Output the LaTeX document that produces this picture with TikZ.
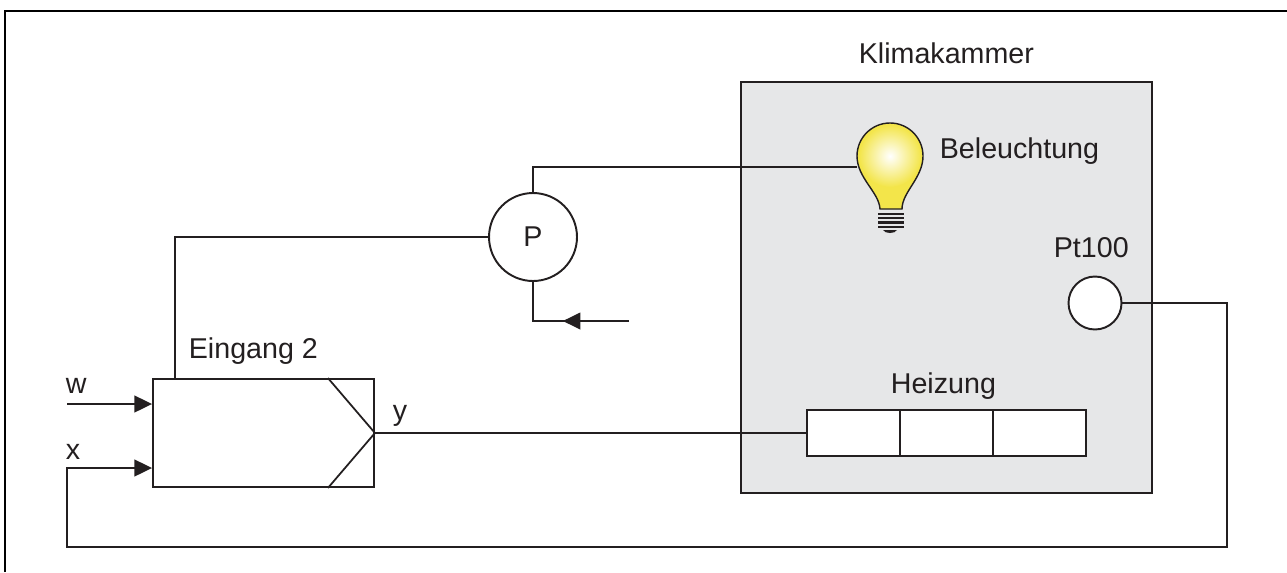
\documentclass[tikz,border=0pt]{standalone}
\usepackage{fontspec}
\setmainfont{Liberation Sans}
\usepackage{tikz}
\usetikzlibrary{arrows.meta, decorations.markings}

\definecolor{linie}{HTML}{231F20}
\definecolor{kammergrau}{HTML}{E6E7E8}
\definecolor{birne}{HTML}{F3E54A}

\begin{document}
\begin{tikzpicture}[x=0.02cm, y=-0.02cm, color=linie, line width=1pt,
  every node/.style={font=\fontsize{16.3}{19}\selectfont, inner sep=0pt},
  box/.style={draw, line width=1.1pt, fill=white, rectangle, inner sep=0pt},
  sensor/.style={draw, line width=1.1pt, fill=white, circle, inner sep=0pt},
  pfeil/.style={-{Triangle[length=10pt, width=9.5pt]}}]
\useasboundingbox (0,0) rectangle (1287,572);

% Rahmen
\draw[line width=1.6pt, black] (5,572) -- (5,11) -- (1287,11);

% Klimakammer
\node[draw, line width=1.2pt, fill=kammergrau, minimum width=8.22cm, minimum height=8.22cm, inner sep=0pt] (kammer) at (946.5,287.5) {};
\node[anchor=base west] (kammertext) at (858,63) {Klimakammer};

% Gluehbirne
\fill[birne] (880,209) .. controls (879,192) and (857,178) .. (857,156) arc[start angle=180, end angle=360, radius=33] .. controls (923,178) and (902,192) .. (902,209) -- cycle;
\shade[inner color=white, outer color=birne] (890,156) circle[radius=31];
\draw[line width=0.8pt] (880,209) .. controls (879,192) and (857,178) .. (857,156) arc[start angle=180, end angle=360, radius=33] .. controls (923,178) and (902,192) .. (902,209) -- cycle;
\foreach \y in {213.8,218.2,222.5,226.8}
  \draw[line width=1.4pt] (878,\y) -- (904,\y);
\fill (883,230) -- (897,230) .. controls (895,234) and (885,234) .. cycle;
\coordinate (birnein) at (857,167);
\node[anchor=base west] (licht) at (939,158) {Beleuchtung};

% Pt100
\node[sensor, minimum size=1.06cm] (pt) at (1095,303) {};
\node[anchor=base west] (pttext) at (1053,257) {Pt100};

% Heizung
\node[box, minimum width=1.86cm, minimum height=0.92cm] (h1) at (853.5,433) {};
\node[box, minimum width=1.86cm, minimum height=0.92cm] (h2) at (946.5,433) {};
\node[box, minimum width=1.86cm, minimum height=0.92cm] (h3) at (1039.5,433) {};
\node[anchor=base west] (heiztext) at (890,393) {Heizung};

% Regler
\node[box, minimum width=4.42cm, minimum height=2.16cm] (regler) at (263.5,433) {};
\draw ([xshift=-0.94cm]regler.north east) -- (regler.east) -- ([xshift=-0.94cm]regler.south east);
\node[anchor=base west] (eingang) at (188,358) {Eingang 2};
\node[anchor=base west] (ytext) at (392,420) {y};
\node[anchor=base west] (wtext) at (65,393) {w};
\node[anchor=base west] (xtext) at (65,459) {x};

% Potentiometer
\node[sensor, minimum size=1.76cm] (P) at (533,237) {P};
\coordinate (handein) at (629,321);

% Leitungen
\draw (birnein) -| (P.north);
\draw (P.west) -| ([xshift=0.46cm]regler.north west);
\draw[postaction={decorate}, decoration={markings, mark=at position 0.49 with {\arrow{Triangle[length=10pt, width=9.5pt]}}}] (handein) -| (P.south);
\draw (regler.east) -- (h1.west);
\coordinate (win) at (67,404);
\coordinate (xin) at (67,468);
\coordinate (rueck) at (1227,547);
\draw[pfeil] (win) -- (regler.west |- win);
\draw[pfeil] (pt.east) -| (rueck) -| (xin) -- (regler.west |- xin);
\end{tikzpicture}
\end{document}
